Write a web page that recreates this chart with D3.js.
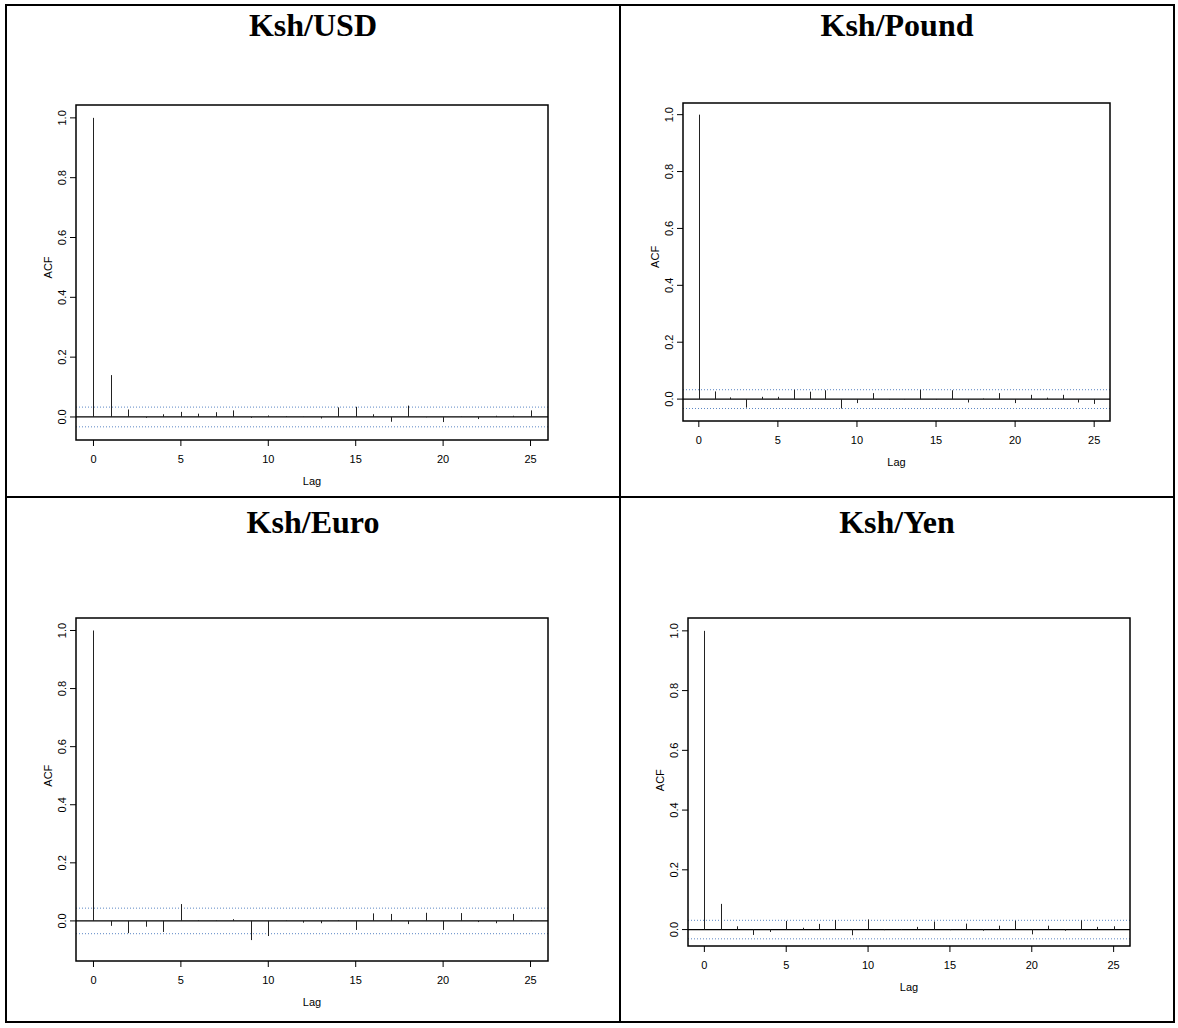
<!DOCTYPE html>
<html>
<head>
<meta charset="utf-8">
<script src="https://cdn.jsdelivr.net/npm/d3@7"></script>
<style>
  body { margin: 0; background: #fff; }
  .cell-title { font-family: "Liberation Serif", "Times New Roman", serif; font-weight: bold; font-size: 32px; }
  .tick-label, .axis-title { font-family: "Liberation Sans", Arial, sans-serif; font-size: 11px; fill: #000; }
</style>
</head>
<body>
<svg id="chart" width="1178" height="1028"></svg>
<script>
const lags = d3.range(0, 26);

const usdAcf = [1, 0.14, 0.025, -0.003, 0.009, 0.017, 0.011, 0.016, 0.022, -0.003, 0.005, 0.003, 0.001,
  -0.005, 0.032, 0.034, 0.009, -0.016, 0.038, -0.001, -0.017, 0.001, -0.007, 0.004, 0.004, 0.022];
const poundAcf = [1, 0.027, 0.006, -0.030, 0.008, 0.008, 0.033, 0.026, 0.031, -0.033, -0.014, 0.021, -0.002,
  -0.002, 0.033, -0.002, 0.031, -0.012, 0.002, 0.021, -0.014, 0.015, 0.005, 0.015, -0.012, -0.017];
const euroAcf = [1, -0.017, -0.042, -0.020, -0.038, 0.058, 0.003, 0.002, 0.006, -0.066, -0.052, 0.002, -0.006,
  -0.008, 0.003, -0.031, 0.026, 0.024, -0.011, 0.028, -0.031, 0.027, -0.004, -0.008, 0.024, 0.002];
const yenAcf = [1, 0.086, 0.011, -0.018, -0.008, 0.029, 0.006, 0.019, 0.032, -0.019, 0.034, -0.002, 0.002,
  0.009, 0.027, -0.002, 0.020, -0.004, 0.013, 0.030, -0.016, 0.013, -0.004, 0.031, 0.009, 0.011];

const titles = ["Ksh/USD", "Ksh/Pound", "Ksh/Euro", "Ksh/Yen"];
const confBands = [0.033, 0.033, 0.044, 0.031];
const yTicks = [0, 0.2, 0.4, 0.6, 0.8, 1.0];
const xTicks = [0, 5, 10, 15, 20, 25];

// plot boxes inside the table cells (pixels)
const panels = [
  { acf: usdAcf, box: { left: 76, right: 548, top: 105, bottom: 440 }, yDomain: [-0.077, 1.043] },
  { acf: poundAcf, box: { left: 683, right: 1110, top: 103, bottom: 421 }, yDomain: [-0.077, 1.041] },
  { acf: euroAcf, box: { left: 76, right: 548, top: 618, bottom: 961 }, yDomain: [-0.138, 1.043] },
  { acf: yenAcf, box: { left: 688, right: 1130, top: 618, bottom: 946 }, yDomain: [-0.055, 1.043] },
];

const TABLE = { left: 6, top: 5, right: 1174, bottom: 1022, midX: 620, midY: 497 };

const svg = d3.select("#chart");

// table grid
svg.append("rect")
  .attr("x", TABLE.left).attr("y", TABLE.top)
  .attr("width", TABLE.right - TABLE.left).attr("height", TABLE.bottom - TABLE.top)
  .attr("fill", "none").attr("stroke", "#000").attr("stroke-width", 2);
svg.append("line")
  .attr("x1", TABLE.midX).attr("x2", TABLE.midX)
  .attr("y1", TABLE.top).attr("y2", TABLE.bottom)
  .attr("stroke", "#000").attr("stroke-width", 2);
svg.append("line")
  .attr("x1", TABLE.left).attr("x2", TABLE.right)
  .attr("y1", TABLE.midY).attr("y2", TABLE.midY)
  .attr("stroke", "#000").attr("stroke-width", 2);

const cellCenters = [
  [(TABLE.left + TABLE.midX) / 2, TABLE.top + 31],
  [(TABLE.midX + TABLE.right) / 2, TABLE.top + 31],
  [(TABLE.left + TABLE.midX) / 2, TABLE.midY + 36],
  [(TABLE.midX + TABLE.right) / 2, TABLE.midY + 36],
];

titles.forEach((t, i) => {
  svg.append("text")
    .attr("class", "cell-title")
    .attr("x", cellCenters[i][0])
    .attr("y", cellCenters[i][1])
    .attr("text-anchor", "middle")
    .text(t);
});

panels.forEach((p, i) => {
  const { box } = p;
  const g = svg.append("g");

  const x = d3.scaleLinear().domain([-1, 26]).range([box.left, box.right]);
  const y = d3.scaleLinear().domain(p.yDomain).range([box.bottom, box.top]);

  // confidence bands
  [confBands[i], -confBands[i]].forEach((c) => {
    g.append("line")
      .attr("x1", box.left).attr("x2", box.right)
      .attr("y1", y(c)).attr("y2", y(c))
      .attr("stroke", "#5b86c4")
      .attr("stroke-width", 1)
      .attr("stroke-dasharray", "1,2");
  });

  // zero line
  g.append("line")
    .attr("x1", box.left).attr("x2", box.right)
    .attr("y1", y(0)).attr("y2", y(0))
    .attr("stroke", "#000").attr("stroke-width", 1.2);

  // acf spikes
  g.selectAll(".spike")
    .data(lags.map((l) => [l, p.acf[l]]))
    .join("line")
    .attr("class", "spike")
    .attr("x1", ([l]) => Math.round(x(l)) + 0.5)
    .attr("x2", ([l]) => Math.round(x(l)) + 0.5)
    .attr("y1", y(0))
    .attr("y2", ([, v]) => y(v))
    .attr("stroke", "#222")
    .attr("stroke-width", 1);

  // box
  g.append("rect")
    .attr("x", box.left).attr("y", box.top)
    .attr("width", box.right - box.left).attr("height", box.bottom - box.top)
    .attr("fill", "none").attr("stroke", "#000").attr("stroke-width", 1.5);

  // x axis
  const xAxis = g.append("g").attr("transform", `translate(0,${box.bottom})`);
  xAxis.selectAll(".xt")
    .data(xTicks)
    .join("line")
    .attr("x1", (d) => x(d)).attr("x2", (d) => x(d))
    .attr("y1", 0).attr("y2", 6)
    .attr("stroke", "#000");
  xAxis.selectAll(".tick-label")
    .data(xTicks)
    .join("text")
    .attr("class", "tick-label")
    .attr("x", (d) => x(d))
    .attr("y", 23)
    .attr("text-anchor", "middle")
    .text((d) => d);
  xAxis.append("text")
    .attr("class", "axis-title")
    .attr("x", (box.left + box.right) / 2)
    .attr("y", 45)
    .attr("text-anchor", "middle")
    .text("Lag");

  // y axis
  const yAxis = g.append("g").attr("transform", `translate(${box.left},0)`);
  yAxis.selectAll(".yt")
    .data(yTicks)
    .join("line")
    .attr("x1", -6).attr("x2", 0)
    .attr("y1", (d) => y(d)).attr("y2", (d) => y(d))
    .attr("stroke", "#000");
  yAxis.selectAll(".tick-label")
    .data(yTicks)
    .join("text")
    .attr("class", "tick-label")
    .attr("transform", (d) => `translate(-10,${y(d)}) rotate(-90)`)
    .attr("text-anchor", "middle")
    .text((d) => d3.format(".1f")(d));
  yAxis.append("text")
    .attr("class", "axis-title")
    .attr("transform", `translate(-24,${(y(0) + y(1)) / 2}) rotate(-90)`)
    .attr("text-anchor", "middle")
    .text("ACF");
});
</script>
</body>
</html>
